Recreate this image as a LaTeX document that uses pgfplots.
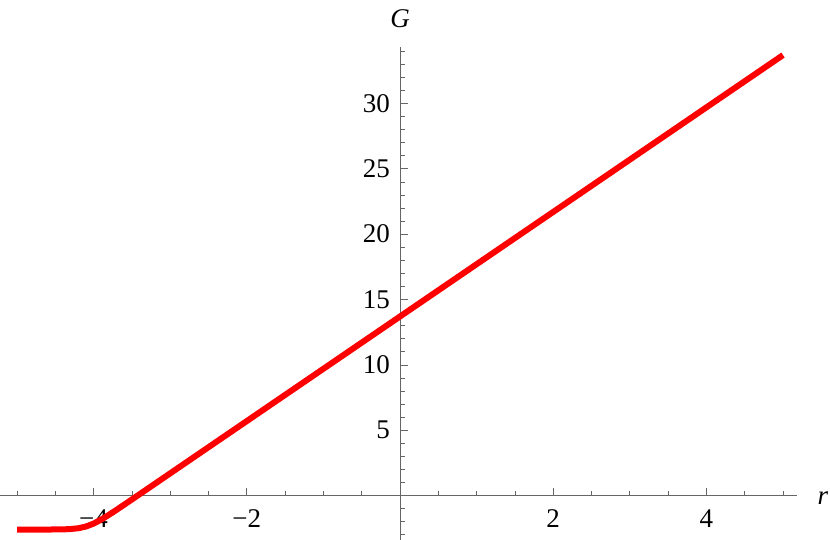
\documentclass[border=0pt]{standalone}
\usepackage{fontspec}
\setmainfont{Liberation Serif}
\usepackage{pgfplots}
\pgfplotsset{compat=1.18}
\pgfplotsset{
  layers/labels above/.define layer set={
    axis background,axis grid,axis ticks,axis lines,main,
    axis tick labels,axis descriptions,axis foreground
  }{},
}

\begin{document}
\begin{tikzpicture}
\begin{axis}[
  set layers=labels above,
  at={(0,0)}, anchor=south west,
  x=76.6pt, y=13.07pt,
  xmin=-5.222, xmax=5.183,
  ymin=-3.4, ymax=34.3,
  axis lines=middle,
  axis line style={-, black!60, line width=0.8pt},
  every tick/.style={black!60, line width=0.7pt},
  tick align=inside,
  major tick length=8pt,
  minor tick length=4.5pt,
  xtick={-4,-2,2,4},
  xticklabels={−4,−2,2,4},
  minor xtick={-5,-4.5,...,5},
  ytick={5,10,15,20,25,30},
  minor ytick={-3,-2,...,34},
  tick label style={font=\fontsize{27}{31}\selectfont, inner sep=0pt},
  /pgf/number format/assume math mode=true,
  xticklabel style={anchor=north, yshift=-14pt},
  yticklabel style={anchor=east, xshift=-10pt},
  clip=false,
]
\addplot[red, line width=6pt, line join=round] coordinates {
  (-5,-2.60) (-4.6,-2.599) (-4.4,-2.59) (-4.3,-2.56) (-4.2,-2.50)
  (-4.1,-2.37) (-4.0,-2.145) (-3.9,-1.836) (-3.8,-1.475) (-3.7,-1.091)
  (-3.6,-0.696) (-3.5,-0.30) (-3,1.7) (0,13.7) (5,33.7)
};
\node[font=\fontsize{27}{31}\selectfont\itshape] at (axis cs:5.52,-0.2) {r};
\node[font=\fontsize{27}{31}\selectfont\itshape] at (axis cs:0,36.5) {G};
\end{axis}
\pgfresetboundingbox
\path (0,0) rectangle (830pt,540pt);
\end{tikzpicture}
\end{document}
